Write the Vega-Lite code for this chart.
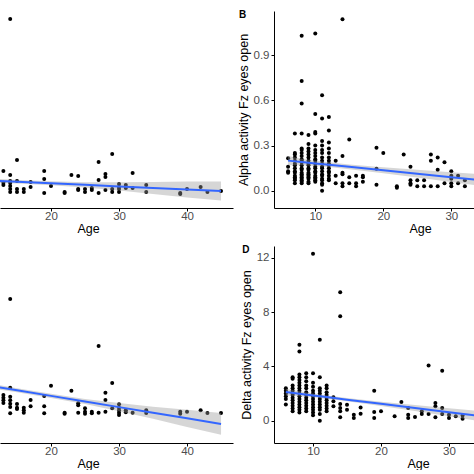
{
"$schema":"https://vega.github.io/schema/vega-lite/v6.json",
"padding":{"left":0,"top":10,"right":0,"bottom":0},
"autosize":{"type":"pad"},
"background":"white",
"config":{"view":{"stroke":null},"font":"Liberation Sans","axis":{"grid":false,"domainColor":"black","tickColor":"black","tickSize":3,"labelColor":"#4d4d4d","labelFontSize":11.5,"titleFontSize":12.5,"titleFontWeight":"normal","titleColor":"black","labelPadding":2,"titlePadding":3,"domainWidth":1,"tickWidth":1},"axisX":{"labelPadding":-1,"titlePadding":1}},
"datasets":{
"ptsA":[{"age":13,"v":1.67},{"age":13,"v":0.89},{"age":13,"v":0.73},{"age":14,"v":11.8},{"age":14,"v":1.4},{"age":14,"v":1.0},{"age":14,"v":0.87},{"age":14,"v":0.67},{"age":14,"v":0.47},{"age":14,"v":0.27},{"age":15,"v":2.4},{"age":15,"v":1.0},{"age":15,"v":0.47},{"age":15,"v":0.27},{"age":16,"v":0.47},{"age":16,"v":0.27},{"age":17,"v":0.93},{"age":17,"v":0.6},{"age":19,"v":1.67},{"age":19,"v":1.13},{"age":19,"v":0.2},{"age":20,"v":0.67},{"age":22,"v":0.27},{"age":22,"v":0.2},{"age":23,"v":1.4},{"age":24,"v":1.33},{"age":24,"v":0.47},{"age":24,"v":0.4},{"age":25,"v":0.47},{"age":25,"v":0.27},{"age":26,"v":0.53},{"age":26,"v":0.4},{"age":27,"v":2.27},{"age":27,"v":1.07},{"age":27,"v":0.2},{"age":28,"v":1.47},{"age":28,"v":1.27},{"age":28,"v":0.4},{"age":29,"v":2.8},{"age":29,"v":0.47},{"age":29,"v":0.27},{"age":30,"v":0.8},{"age":30,"v":0.6},{"age":30,"v":0.47},{"age":30,"v":0.27},{"age":31,"v":0.73},{"age":31,"v":0.53},{"age":32,"v":1.53},{"age":32,"v":0.53},{"age":34,"v":0.73},{"age":34,"v":0.27},{"age":39,"v":0.2},{"age":39,"v":0.13},{"age":40,"v":0.47},{"age":42,"v":0.6},{"age":43,"v":0.27},{"age":45,"v":0.33}],
"fitA":[{"age":6,"fit":1.133,"lo":0.933,"hi":1.333},{"age":10,"fit":1.051,"lo":0.901,"hi":1.201},{"age":12.5,"fit":1.0,"lo":0.87,"hi":1.13},{"age":15,"fit":0.949,"lo":0.829,"hi":1.069},{"age":20,"fit":0.846,"lo":0.716,"hi":0.976},{"age":25,"fit":0.744,"lo":0.574,"hi":0.914},{"age":30,"fit":0.641,"lo":0.371,"hi":0.911},{"age":35,"fit":0.539,"lo":0.139,"hi":0.939},{"age":40,"fit":0.436,"lo":-0.094,"hi":0.966},{"age":45,"fit":0.333,"lo":-0.297,"hi":0.963}],
"ptsB":[{"age":6,"v":0.215},{"age":6,"v":0.16},{"age":6,"v":0.13},{"age":6,"v":0.12},
{"age":7,"v":0.38},{"age":7,"v":0.25},{"age":7,"v":0.24},{"age":7,"v":0.22},{"age":7,"v":0.2},{"age":7,"v":0.18},{"age":7,"v":0.17},{"age":7,"v":0.15},{"age":7,"v":0.13},{"age":7,"v":0.12},{"age":7,"v":0.1},{"age":7,"v":0.09},{"age":7,"v":0.08},{"age":7,"v":0.07},{"age":7,"v":0.05},
{"age":8,"v":1.03},{"age":8,"v":0.73},{"age":8,"v":0.58},{"age":8,"v":0.38},{"age":8,"v":0.28},{"age":8,"v":0.27},{"age":8,"v":0.25},{"age":8,"v":0.23},{"age":8,"v":0.21},{"age":8,"v":0.2},{"age":8,"v":0.19},{"age":8,"v":0.17},{"age":8,"v":0.15},{"age":8,"v":0.14},{"age":8,"v":0.12},{"age":8,"v":0.11},{"age":8,"v":0.1},{"age":8,"v":0.09},{"age":8,"v":0.08},{"age":8,"v":0.07},{"age":8,"v":0.06},{"age":8,"v":0.05},
{"age":9,"v":0.37},{"age":9,"v":0.31},{"age":9,"v":0.28},{"age":9,"v":0.26},{"age":9,"v":0.24},{"age":9,"v":0.22},{"age":9,"v":0.2},{"age":9,"v":0.18},{"age":9,"v":0.17},{"age":9,"v":0.15},{"age":9,"v":0.14},{"age":9,"v":0.12},{"age":9,"v":0.11},{"age":9,"v":0.1},{"age":9,"v":0.09},{"age":9,"v":0.08},{"age":9,"v":0.06},{"age":9,"v":0.05},
{"age":10,"v":1.045},{"age":10,"v":0.51},{"age":10,"v":0.39},{"age":10,"v":0.38},{"age":10,"v":0.3},{"age":10,"v":0.27},{"age":10,"v":0.25},{"age":10,"v":0.23},{"age":10,"v":0.21},{"age":10,"v":0.2},{"age":10,"v":0.18},{"age":10,"v":0.16},{"age":10,"v":0.15},{"age":10,"v":0.13},{"age":10,"v":0.12},{"age":10,"v":0.1},{"age":10,"v":0.09},{"age":10,"v":0.08},{"age":10,"v":0.07},{"age":10,"v":0.06},
{"age":11,"v":0.635},{"age":11,"v":0.48},{"age":11,"v":0.33},{"age":11,"v":0.3},{"age":11,"v":0.27},{"age":11,"v":0.25},{"age":11,"v":0.22},{"age":11,"v":0.2},{"age":11,"v":0.18},{"age":11,"v":0.16},{"age":11,"v":0.15},{"age":11,"v":0.13},{"age":11,"v":0.11},{"age":11,"v":0.1},{"age":11,"v":0.08},{"age":11,"v":0.07},{"age":11,"v":0.05},{"age":11,"v":0.04},{"age":11,"v":0.0},
{"age":12,"v":0.49},{"age":12,"v":0.4},{"age":12,"v":0.32},{"age":12,"v":0.28},{"age":12,"v":0.25},{"age":12,"v":0.22},{"age":12,"v":0.2},{"age":12,"v":0.18},{"age":12,"v":0.17},{"age":12,"v":0.15},{"age":12,"v":0.13},{"age":12,"v":0.12},{"age":12,"v":0.1},{"age":12,"v":0.08},{"age":12,"v":0.07},
{"age":13,"v":0.2},{"age":13,"v":0.1},{"age":13,"v":0.05},{"age":14,"v":1.14},{"age":14,"v":0.23},{"age":14,"v":0.12},{"age":14,"v":0.11},{"age":14,"v":0.05},{"age":14,"v":0.03},{"age":15,"v":0.34},{"age":15,"v":0.09},{"age":15,"v":0.05},{"age":16,"v":0.1},{"age":16,"v":0.05},{"age":16,"v":0.03},{"age":17,"v":0.1},{"age":17,"v":0.09},{"age":17,"v":0.06},{"age":19,"v":0.286},{"age":19,"v":0.146},{"age":19,"v":0.04},{"age":20,"v":0.25},{"age":22,"v":0.03},{"age":22,"v":0.02},{"age":23,"v":0.24},{"age":24,"v":0.16},{"age":24,"v":0.07},{"age":24,"v":0.05},{"age":24,"v":0.04},{"age":25,"v":0.07},{"age":25,"v":0.03},{"age":26,"v":0.07},{"age":26,"v":0.03},{"age":27,"v":0.24},{"age":27,"v":0.2},{"age":27,"v":0.03},{"age":28,"v":0.22},{"age":28,"v":0.14},{"age":28,"v":0.03},{"age":29,"v":0.19},{"age":29,"v":0.05},{"age":30,"v":0.13},{"age":30,"v":0.1},{"age":30,"v":0.08},{"age":30,"v":0.05},{"age":30,"v":0.03},{"age":31,"v":0.1},{"age":31,"v":0.05},{"age":32,"v":0.07},{"age":32,"v":0.03}],
"fitB":[{"age":6,"fit":0.2,"lo":0.17,"hi":0.23},{"age":8,"fit":0.1908,"lo":0.169,"hi":0.213},{"age":10,"fit":0.1817,"lo":0.164,"hi":0.2},{"age":12,"fit":0.1725,"lo":0.157,"hi":0.189},{"age":15,"fit":0.1588,"lo":0.143,"hi":0.175},{"age":20,"fit":0.1359,"lo":0.116,"hi":0.156},{"age":25,"fit":0.113,"lo":0.087,"hi":0.139},{"age":30,"fit":0.0901,"lo":0.058,"hi":0.122},{"age":35,"fit":0.0672,"lo":0.027,"hi":0.107},{"age":40,"fit":0.0443,"lo":-0.006,"hi":0.094},{"age":45,"fit":0.0214,"lo":-0.034,"hi":0.076}],
"ptsC":[{"age":13,"v":1.9},{"age":13,"v":1.7},{"age":13,"v":1.5},{"age":13,"v":1.3},{"age":14,"v":8.97},{"age":14,"v":2.43},{"age":14,"v":1.77},{"age":14,"v":1.5},{"age":14,"v":1.25},{"age":14,"v":1.01},{"age":14,"v":0.55},{"age":15,"v":1.23},{"age":15,"v":0.96},{"age":15,"v":0.86},{"age":16,"v":0.96},{"age":16,"v":0.77},{"age":16,"v":0.59},{"age":17,"v":1.53},{"age":17,"v":1.06},{"age":19,"v":1.82},{"age":19,"v":1.06},{"age":19,"v":0.55},{"age":20,"v":2.58},{"age":22,"v":0.59},{"age":22,"v":0.52},{"age":23,"v":2.21},{"age":24,"v":1.28},{"age":24,"v":1.14},{"age":24,"v":0.59},{"age":25,"v":0.91},{"age":25,"v":0.66},{"age":25,"v":0.52},{"age":26,"v":0.66},{"age":26,"v":0.55},{"age":27,"v":5.51},{"age":27,"v":0.59},{"age":28,"v":2.06},{"age":28,"v":1.53},{"age":28,"v":0.66},{"age":29,"v":2.78},{"age":29,"v":0.91},{"age":30,"v":1.21},{"age":30,"v":0.96},{"age":30,"v":0.77},{"age":30,"v":0.59},{"age":30,"v":0.42},{"age":31,"v":0.77},{"age":31,"v":0.62},{"age":32,"v":0.59},{"age":34,"v":0.77},{"age":34,"v":0.57},{"age":39,"v":0.66},{"age":39,"v":0.52},{"age":40,"v":0.66},{"age":42,"v":0.77},{"age":43,"v":0.57},{"age":45,"v":0.57}],
"fitC":[{"age":6,"fit":2.988,"lo":2.738,"hi":3.238},{"age":10,"fit":2.657,"lo":2.477,"hi":2.837},{"age":12.5,"fit":2.45,"lo":2.29,"hi":2.61},{"age":15,"fit":2.243,"lo":2.093,"hi":2.393},{"age":20,"fit":1.829,"lo":1.669,"hi":1.989},{"age":25,"fit":1.415,"lo":1.225,"hi":1.605},{"age":30,"fit":1.001,"lo":0.701,"hi":1.301},{"age":35,"fit":0.587,"lo":0.137,"hi":1.037},{"age":40,"fit":0.173,"lo":-0.457,"hi":0.803},{"age":45,"fit":-0.241,"lo":-1.041,"hi":0.559}],
"ptsD":[{"age":6,"v":2.4},{"age":6,"v":2.2},{"age":6,"v":2.0},{"age":6,"v":1.8},{"age":6,"v":1.6},{"age":6,"v":1.2},
{"age":7,"v":3.2},{"age":7,"v":3.1},{"age":7,"v":2.6},{"age":7,"v":2.4},{"age":7,"v":2.2},{"age":7,"v":2.0},{"age":7,"v":1.9},{"age":7,"v":1.7},{"age":7,"v":1.5},{"age":7,"v":1.3},{"age":7,"v":1.1},{"age":7,"v":0.9},{"age":7,"v":0.7},
{"age":8,"v":5.6},{"age":8,"v":5.1},{"age":8,"v":3.4},{"age":8,"v":3.2},{"age":8,"v":3.0},{"age":8,"v":2.8},{"age":8,"v":2.6},{"age":8,"v":2.4},{"age":8,"v":2.2},{"age":8,"v":2.0},{"age":8,"v":1.8},{"age":8,"v":1.6},{"age":8,"v":1.4},{"age":8,"v":1.2},{"age":8,"v":1.0},{"age":8,"v":0.8},{"age":8,"v":0.6},
{"age":9,"v":3.5},{"age":9,"v":3.2},{"age":9,"v":2.9},{"age":9,"v":2.6},{"age":9,"v":2.4},{"age":9,"v":2.1},{"age":9,"v":1.9},{"age":9,"v":1.7},{"age":9,"v":1.5},{"age":9,"v":1.3},{"age":9,"v":1.1},{"age":9,"v":0.9},{"age":9,"v":0.7},
{"age":10,"v":12.3},{"age":10,"v":3.5},{"age":10,"v":2.8},{"age":10,"v":2.5},{"age":10,"v":2.2},{"age":10,"v":2.0},{"age":10,"v":1.8},{"age":10,"v":1.6},{"age":10,"v":1.4},{"age":10,"v":1.2},{"age":10,"v":1.0},{"age":10,"v":0.8},{"age":10,"v":0.6},{"age":10,"v":0.4},
{"age":11,"v":5.97},{"age":11,"v":3.2},{"age":11,"v":2.4},{"age":11,"v":2.2},{"age":11,"v":2.0},{"age":11,"v":1.8},{"age":11,"v":1.6},{"age":11,"v":1.4},{"age":11,"v":1.2},{"age":11,"v":1.0},{"age":11,"v":0.8},{"age":11,"v":0.5},{"age":11,"v":0.0},
{"age":12,"v":2.6},{"age":12,"v":2.4},{"age":12,"v":2.1},{"age":12,"v":1.9},{"age":12,"v":1.7},{"age":12,"v":1.5},{"age":12,"v":1.3},{"age":12,"v":1.1},{"age":12,"v":0.9},{"age":12,"v":0.7},
{"age":13,"v":1.72},{"age":13,"v":1.43},{"age":13,"v":1.06},{"age":14,"v":9.47},{"age":14,"v":7.7},{"age":14,"v":1.23},{"age":14,"v":0.93},{"age":14,"v":0.69},{"age":14,"v":0.25},{"age":15,"v":1.18},{"age":15,"v":0.81},{"age":16,"v":0.44},{"age":16,"v":0.2},{"age":17,"v":0.98},{"age":17,"v":0.52},{"age":19,"v":2.2},{"age":19,"v":0.64},{"age":19,"v":0.2},{"age":20,"v":0.69},{"age":22,"v":0.32},{"age":23,"v":1.38},{"age":24,"v":0.93},{"age":24,"v":0.44},{"age":24,"v":0.2},{"age":25,"v":0.27},{"age":26,"v":0.69},{"age":26,"v":0.49},{"age":27,"v":4.06},{"age":27,"v":0.49},{"age":28,"v":1.3},{"age":28,"v":1.06},{"age":28,"v":0.25},{"age":29,"v":3.69},{"age":29,"v":0.93},{"age":29,"v":0.49},{"age":30,"v":0.44},{"age":30,"v":0.2},{"age":31,"v":0.32},{"age":32,"v":0.39},{"age":32,"v":0.15}],
"fitD":[{"age":6,"fit":2.11,"lo":1.86,"hi":2.36},{"age":8,"fit":1.986,"lo":1.806,"hi":2.166},{"age":10,"fit":1.862,"lo":1.722,"hi":2.002},{"age":12,"fit":1.738,"lo":1.618,"hi":1.858},{"age":15,"fit":1.552,"lo":1.432,"hi":1.672},{"age":20,"fit":1.242,"lo":1.082,"hi":1.402},{"age":25,"fit":0.932,"lo":0.712,"hi":1.152},{"age":30,"fit":0.622,"lo":0.322,"hi":0.922},{"age":35,"fit":0.312,"lo":-0.068,"hi":0.692},{"age":40,"fit":0.002,"lo":-0.468,"hi":0.472},{"age":45,"fit":-0.308,"lo":-0.858,"hi":0.242}]
},
"columns":2,
"spacing":{"row":38,"column":41},
"bounds":"flush",
"concat":[
{"width":233,"height":197,"layer":[
{"data":{"name":"ptsA"},"mark":{"type":"circle","clip":true,"color":"black","size":16,"opacity":1},"encoding":{"x":{"field":"age","type":"quantitative","scale":{"domain":[12.5,46.76],"nice":false,"zero":false},"axis":{"values":[20,30,40],"title":"Age","titleX":88}},"y":{"field":"v","type":"quantitative","scale":{"domain":[-0.8,12.333],"nice":false,"zero":false},"axis":null}}},
{"data":{"name":"fitA"},"mark":{"type":"area","clip":true,"color":"#999999","opacity":0.4},"encoding":{"x":{"field":"age","type":"quantitative"},"y":{"field":"lo","type":"quantitative"},"y2":{"field":"hi"}}},
{"data":{"name":"fitA"},"mark":{"type":"line","clip":true,"color":"#3366FF","strokeWidth":2},"encoding":{"x":{"field":"age","type":"quantitative"},"y":{"field":"fit","type":"quantitative"}}}
]},
{"width":200,"height":197,"title":{"text":"B","anchor":"start","frame":"bounds","fontSize":10,"fontWeight":"bold","color":"black","offset":-9,"dx":2},"layer":[
{"data":{"name":"ptsB"},"mark":{"type":"circle","clip":true,"color":"black","size":16,"opacity":1},"encoding":{"x":{"field":"age","type":"quantitative","scale":{"domain":[3.93,33.34],"nice":false,"zero":false},"axis":{"values":[10,20,30],"title":"Age","titleX":146}},"y":{"field":"v","type":"quantitative","title":"Alpha activity Fz eyes open","scale":{"domain":[-0.115,1.195],"nice":false,"zero":false},"axis":{"values":[0,0.3,0.6,0.9],"format":".1f"}}}},
{"data":{"name":"fitB"},"mark":{"type":"area","clip":true,"color":"#999999","opacity":0.4},"encoding":{"x":{"field":"age","type":"quantitative"},"y":{"field":"lo","type":"quantitative","title":"Alpha activity Fz eyes open"},"y2":{"field":"hi"}}},
{"data":{"name":"fitB"},"mark":{"type":"line","clip":true,"color":"#3366FF","strokeWidth":2},"encoding":{"x":{"field":"age","type":"quantitative"},"y":{"field":"fit","type":"quantitative","title":"Alpha activity Fz eyes open"}}}
]},
{"width":233,"height":197,"layer":[
{"data":{"name":"ptsC"},"mark":{"type":"circle","clip":true,"color":"black","size":16,"opacity":1},"encoding":{"x":{"field":"age","type":"quantitative","scale":{"domain":[12.5,46.76],"nice":false,"zero":false},"axis":{"values":[20,30,40],"title":"Age","titleX":88}},"y":{"field":"v","type":"quantitative","scale":{"domain":[-1.645,12.88],"nice":false,"zero":false},"axis":null}}},
{"data":{"name":"fitC"},"mark":{"type":"area","clip":true,"color":"#999999","opacity":0.4},"encoding":{"x":{"field":"age","type":"quantitative"},"y":{"field":"lo","type":"quantitative"},"y2":{"field":"hi"}}},
{"data":{"name":"fitC"},"mark":{"type":"line","clip":true,"color":"#3366FF","strokeWidth":2},"encoding":{"x":{"field":"age","type":"quantitative"},"y":{"field":"fit","type":"quantitative"}}}
]},
{"width":200,"height":197,"title":{"text":"D","anchor":"start","frame":"bounds","fontSize":10,"fontWeight":"bold","color":"black","offset":-9,"dx":2},"layer":[
{"data":{"name":"ptsD"},"mark":{"type":"circle","clip":true,"color":"black","size":16,"opacity":1},"encoding":{"x":{"field":"age","type":"quantitative","scale":{"domain":[4.26,33.68],"nice":false,"zero":false},"axis":{"values":[10,20,30],"title":"Age","titleX":144}},"y":{"field":"v","type":"quantitative","title":"Delta activity Fz eyes open","scale":{"domain":[-1.645,12.88],"nice":false,"zero":false},"axis":{"values":[0,4,8,12]}}}},
{"data":{"name":"fitD"},"mark":{"type":"area","clip":true,"color":"#999999","opacity":0.4},"encoding":{"x":{"field":"age","type":"quantitative"},"y":{"field":"lo","type":"quantitative","title":"Delta activity Fz eyes open"},"y2":{"field":"hi"}}},
{"data":{"name":"fitD"},"mark":{"type":"line","clip":true,"color":"#3366FF","strokeWidth":2},"encoding":{"x":{"field":"age","type":"quantitative"},"y":{"field":"fit","type":"quantitative","title":"Delta activity Fz eyes open"}}}
]}
]
}
